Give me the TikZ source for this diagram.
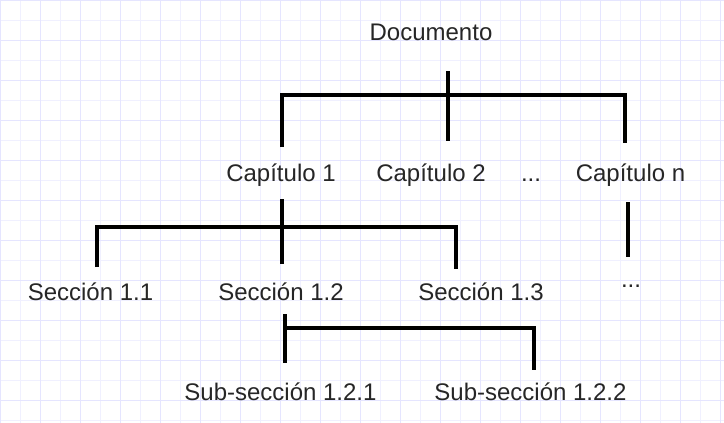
\documentclass[tikz,border=0pt]{standalone}
\usepackage{fontspec}
\setmainfont{Liberation Sans}
\begin{document}
\begin{tikzpicture}[x=1pt,y=-1pt,
  lbl/.style={anchor=base,inner sep=0pt,font=\fontsize{24}{28}\selectfont,text=black!85},
  br/.style={line width=4pt,black,line cap=butt},
  gridminor/.style={draw=blue!6,line width=1pt},
  gridmajor/.style={draw=blue!10,line width=1pt}]
\useasboundingbox (0,0) rectangle (724,423);
\fill[white] (0,0) rectangle (724,423);
\foreach \x in {20,60,...,720} \draw[gridminor] (\x+0.5,0) -- (\x+0.5,423);
\foreach \y in {20,60,...,420} \draw[gridminor] (0,\y+0.5) -- (724,\y+0.5);
\foreach \x in {0,40,...,720} \draw[gridmajor] (\x+0.5,0) -- (\x+0.5,423);
\foreach \y in {0,40,...,420} \draw[gridmajor] (0,\y+0.5) -- (724,\y+0.5);

% texts
\node[lbl] (doc) at (431,41) {Documento};
\node[lbl] (c1) at (281,181) {Capítulo 1};
\node[lbl] (c2) at (431,181) {Capítulo 2};
\node[lbl] (cd) at (531,181) {...};
\node[lbl] (cn) at (630.5,181) {Capítulo n};
\node[lbl] (s1) at (90.5,300) {Sección 1.1};
\node[lbl] (s2) at (281,300) {Sección 1.2};
\node[lbl] (s3) at (481,300) {Sección 1.3};
\node[lbl] (sd) at (631,287) {...};
\node[lbl] (ss1) at (280.5,400) {Sub-sección 1.2.1};
\node[lbl] (ss2) at (530.5,400) {Sub-sección 1.2.2};

% bracket 1
\coordinate (a0) at (447.5,71);
\coordinate (a1) at (447.5,141);
\coordinate (aL) at (282,147);
\coordinate (aLt) at (282,95);
\coordinate (aR) at (624.5,143);
\coordinate (aRt) at (624.5,95);
\draw[br] (a0) -- (a1);
\draw[br] (aL) -- (aLt) -- (aRt) -- (aR);

% capitulo n continuation
\coordinate (n0) at (628,202);
\coordinate (n1) at (628,257);
\draw[br] (n0) -- (n1);

% bracket 2
\coordinate (b0) at (282,199);
\coordinate (b1) at (282,264);
\coordinate (bL) at (97,267);
\coordinate (bLt) at (97,227);
\coordinate (bR) at (456,269);
\coordinate (bRt) at (456,227);
\draw[br] (b0) -- (b1);
\draw[br] (bL) -- (bLt) -- (bRt) -- (bR);

% bracket 3
\coordinate (c0) at (285,314);
\coordinate (c1p) at (285,363);
\coordinate (cLt) at (285,328);
\coordinate (cRt) at (534,328);
\coordinate (cR) at (534,370);
\draw[br] (c0) -- (c1p);
\draw[br] (cLt) -- (cRt) -- (cR);
\end{tikzpicture}
\end{document}
